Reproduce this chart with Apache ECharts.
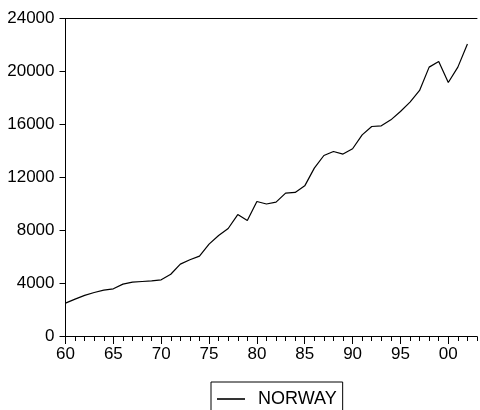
<!DOCTYPE html>
<html>
<head>
<meta charset="utf-8">
<script src="https://cdn.jsdelivr.net/npm/echarts@6/dist/echarts.min.js"></script>
<style>
  html, body { margin: 0; padding: 0; background: #fff; }
  #chart { width: 480px; height: 410px; }
</style>
</head>
<body>
<div id="chart"></div>
<script>
// Annual series, 1960-2003 (last observation 2002)
const years = [];
for (let y = 1960; y <= 2003; y++) years.push(String(y));

const seriesName = 'NORWAY';
const norway = [
  2520, 2820, 3100, 3320, 3500, 3600, 3950, 4100, 4150, 4200,
  4280, 4700, 5460, 5790, 6070, 6970, 7620, 8150, 9200, 8750,
  10190, 10000, 10140, 10820, 10870, 11370, 12710, 13660, 13960, 13770,
  14170, 15220, 15850, 15900, 16350, 16980, 17690, 18570, 20330, 20750,
  19170, 20330, 22070
];

const yTicks = { min: 0, max: 24000, step: 4000 };

const font = 'Liberation Sans, Arial, sans-serif';
const fs = 17;

const chart = echarts.init(document.getElementById('chart'), null, { renderer: 'canvas' });

function twoDigit(v) {
  const y = parseInt(v, 10);
  return (y % 5 === 0) ? String(y % 100).padStart(2, '0') : '';
}

chart.setOption({
  animation: false,
  backgroundColor: '#fff',
  grid: { left: 65.5, right: 1.5, top: 18.5, bottom: 73.5, containLabel: false },
  legend: {
    show: true,
    data: [seriesName],
    left: 211,
    top: 382,
    orient: 'horizontal',
    borderColor: '#000',
    borderWidth: 1,
    padding: [8, 6, 12, 6],
    icon: 'rect',
    itemWidth: 28,
    itemHeight: 1.6,
    itemGap: 0,
    itemStyle: { color: '#000', borderWidth: 0 },
    textStyle: { color: '#000', fontSize: 18, fontFamily: font, padding: [0, 0, 0, 8] }
  },
  xAxis: [
    {
      // yearly minor ticks with labels every 5 years
      type: 'category',
      data: years,
      boundaryGap: false,
      position: 'bottom',
      axisLine: { show: true, lineStyle: { color: '#000', width: 1 } },
      axisTick: { show: true, interval: 0, length: 4.5, lineStyle: { color: '#000' } },
      axisLabel: {
        interval: 0, margin: 9, color: '#000', fontSize: fs, fontFamily: font,
        formatter: twoDigit
      },
      splitLine: { show: false }
    },
    {
      // longer ticks every 5 years
      type: 'category',
      data: years,
      boundaryGap: false,
      position: 'bottom',
      axisLine: { show: false },
      axisTick: {
        show: true, length: 7.5, lineStyle: { color: '#000' },
        interval: function (i) { return i % 5 === 0; }
      },
      axisLabel: { show: false },
      splitLine: { show: false }
    },
    {
      // top frame line
      type: 'category',
      data: years,
      boundaryGap: false,
      position: 'top',
      axisLine: { show: true, lineStyle: { color: '#000', width: 1 } },
      axisTick: { show: false },
      axisLabel: { show: false },
      splitLine: { show: false }
    }
  ],
  yAxis: {
    type: 'value',
    min: yTicks.min,
    max: yTicks.max,
    interval: yTicks.step,
    axisLine: { show: true, lineStyle: { color: '#000', width: 1 } },
    axisTick: { show: true, length: 6, lineStyle: { color: '#000' } },
    axisLabel: {
      margin: 11, color: '#000', fontSize: fs, fontFamily: font,
      formatter: function (v) { return String(v); }
    },
    splitLine: { show: false }
  },
  series: [{
    name: seriesName,
    type: 'line',
    xAxisIndex: 0,
    data: norway,
    symbol: 'none',
    showSymbol: false,
    lineStyle: { color: '#000', width: 1.2 },
    itemStyle: { color: '#000' }
  }]
});
</script>
</body>
</html>
